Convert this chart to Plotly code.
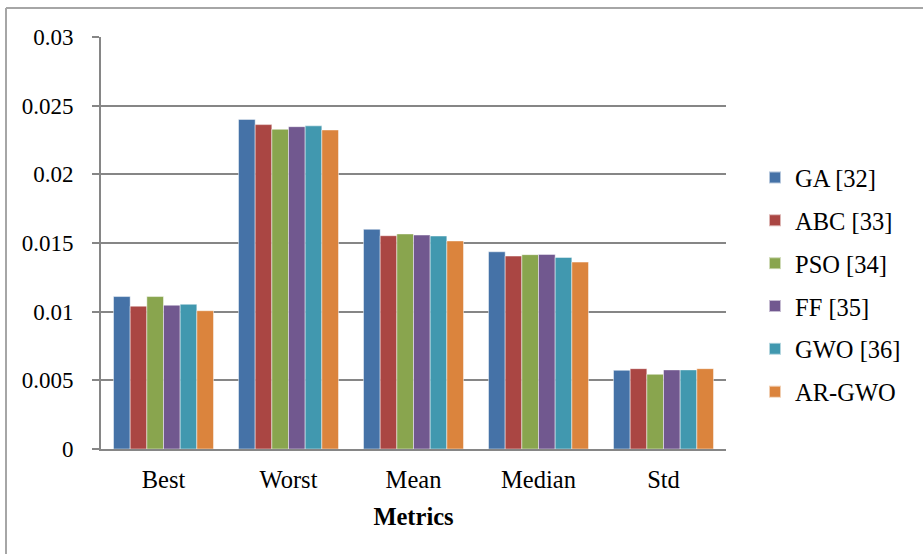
import plotly.graph_objects as go

# Metric categories on the x axis
metrics = ["Best", "Worst", "Mean", "Median", "Std"]

# Series values per algorithm (one value per metric)
ga = [0.0111, 0.0240, 0.0160, 0.01436, 0.00573]
abc = [0.0104, 0.02362, 0.01553, 0.01405, 0.00585]
pso = [0.0111, 0.02328, 0.01566, 0.01415, 0.00544]
ff = [0.01047, 0.02347, 0.01558, 0.01417, 0.00576]
gwo = [0.01054, 0.02353, 0.01551, 0.01395, 0.00576]
ar_gwo = [0.01007, 0.02323, 0.01515, 0.01361, 0.00585]

series_names = ["GA [32]", "ABC [33]", "PSO [34]", "FF [35]", "GWO [36]", "AR-GWO"]
series_values = [ga, abc, pso, ff, gwo, ar_gwo]
colors = ["#4572A7", "#AA4643", "#89A54E", "#71588F", "#4198AF", "#DB843D"]

y_tickvals = [0, 0.005, 0.01, 0.015, 0.02, 0.025, 0.03]
y_ticktext = ["0", "0.005", "0.01", "0.015", "0.02", "0.025", "0.03"]

FONT = "Liberation Serif"
FS = 24.5
AXIS_GRAY = "#868686"

fig = go.Figure()
for name, vals, col in zip(series_names, series_values, colors):
    fig.add_trace(go.Bar(
        x=metrics, y=vals, name=name, legendgroup=name,
        marker=dict(color=col, line=dict(color="rgba(255,255,255,0.6)", width=0.8)),
    ))

W, H = 923, 554
L, R, T, B = 101, 197, 37, 105
pw, ph = W - L - R, H - T - B

def px_x(px):
    return (px - L) / pw

def px_y(py):
    return 1 - (py - T) / ph

fig.update_layout(
    width=W, height=H,
    margin=dict(l=L, r=R, t=T, b=B, autoexpand=False),
    paper_bgcolor="white", plot_bgcolor="white",
    barmode="group", bargap=0.2, bargroupgap=0,
    font=dict(family=FONT, size=FS, color="black"),
    showlegend=True,
    legend=dict(
        x=px_x(755), xanchor="left",
        y=px_y(285), yanchor="middle",
        font=dict(family=FONT, size=FS, color="black"),
        tracegroupgap=8, itemsizing="constant",
        bgcolor="rgba(0,0,0,0)",
    ),
    xaxis=dict(
        showline=True, linecolor=AXIS_GRAY, linewidth=2,
        ticks="", showgrid=False,
        tickfont=dict(family=FONT, size=FS, color="black"),
        ticklabelstandoff=8,
        title=dict(text="<b>Metrics</b>", font=dict(family=FONT, size=FS, color="black"), standoff=15),
    ),
    yaxis=dict(
        range=[0, 0.03], tickvals=y_tickvals, ticktext=y_ticktext,
        showline=True, linecolor=AXIS_GRAY, linewidth=2,
        ticks="outside", ticklen=7, tickcolor=AXIS_GRAY, tickwidth=2,
        ticklabelstandoff=14,
        showgrid=True, gridcolor=AXIS_GRAY, gridwidth=2,
        zeroline=False,
        tickfont=dict(family=FONT, size=23, color="black"),
    ),
    shapes=[
        # outer chart frame (top and left edges)
        dict(type="line", xref="paper", yref="paper",
             x0=px_x(6), x1=px_x(923), y0=px_y(8), y1=px_y(8),
             line=dict(color="#A6A6A6", width=2)),
        dict(type="line", xref="paper", yref="paper",
             x0=px_x(6), x1=px_x(6), y0=px_y(8), y1=px_y(554),
             line=dict(color="#A6A6A6", width=2)),
    ],
)

fig.write_html("out.html")
